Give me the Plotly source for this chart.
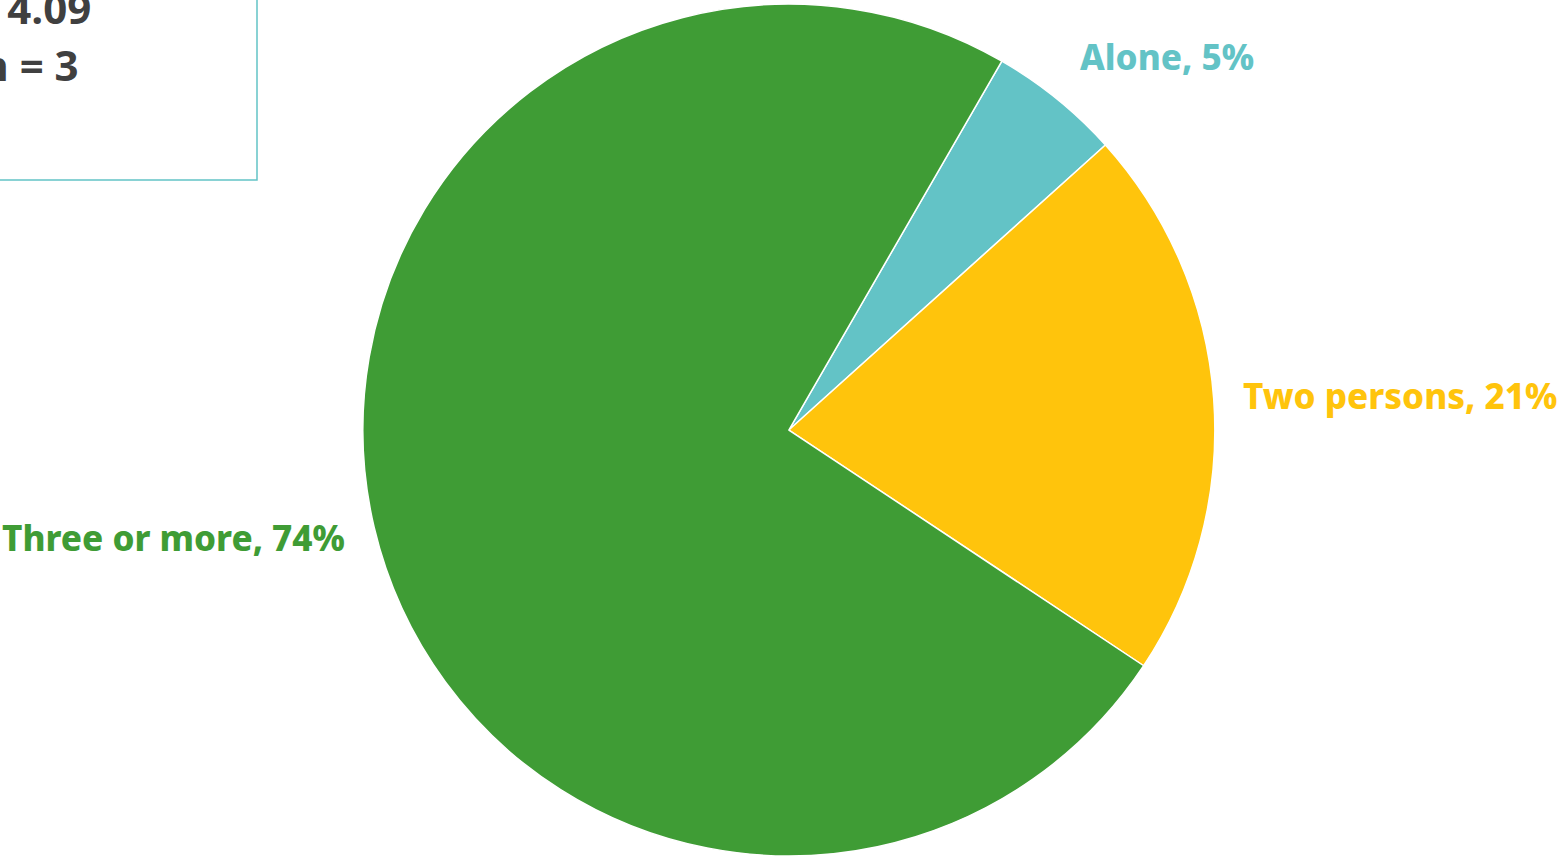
import plotly.graph_objects as go

W, H = 1559, 856

categories = ["Alone", "Two persons", "Three or more"]
shares = [5, 21, 74]
colors = ["#63c3c6", "#ffc40c", "#3f9c35"]
stat_lines = ["Average household size = 4.09", "Median = 3"]

fig = go.Figure()
fig.add_trace(go.Pie(
    labels=categories,
    values=shares,
    sort=False,
    direction="clockwise",
    rotation=30,
    marker=dict(colors=colors, line=dict(color="white", width=1.5)),
    textinfo="none",
    showlegend=False,
    domain=dict(x=[0.206, 0.806], y=[0.0, 0.9953]),
))

label_pos = [(1166.5, 56), (1400, 395), (173.5, 537)]
for cat, val, col, (px, py) in zip(categories, shares, colors, label_pos):
    fig.add_annotation(
        text=f"{cat}, {val}%", x=px / W, y=1 - py / H, xref="paper", yref="paper",
        xanchor="center", yanchor="middle", showarrow=False,
        font=dict(family="Noto Sans", size=35, color=col, weight=800),
    )

# stats box (partially outside the page, as in the reference)
fig.add_shape(type="rect", xref="paper", yref="paper",
              x0=-0.1, x1=257 / W, y0=1 - 180 / H, y1=1.1,
              line=dict(color="#63c3c6", width=1.5), fillcolor="rgba(0,0,0,0)")
for line, (px, py) in zip(stat_lines, [(93, 7), (81, 64)]):
    fig.add_annotation(
        text=line, x=px / W, y=1 - py / H, xref="paper", yref="paper",
        xanchor="right", yanchor="middle", showarrow=False,
        font=dict(family="Open Sans", size=42, color="#404040", weight="bold"),
    )

fig.update_layout(
    width=W, height=H,
    margin=dict(l=0, r=0, t=0, b=0),
    paper_bgcolor="white", plot_bgcolor="white",
)

fig.write_html("out.html")
